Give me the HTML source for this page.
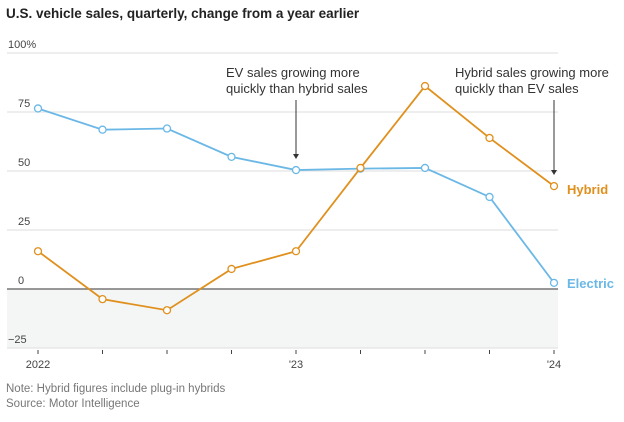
<!DOCTYPE html>
<html><head><meta charset="utf-8"><style>
body{margin:0;background:#fff;font-family:"Liberation Sans",sans-serif;}
svg text{font-family:"Liberation Sans",sans-serif;}
</style></head><body>
<svg width="624" height="417" viewBox="0 0 624 417">
<text x="6" y="18" font-size="13.5" font-weight="bold" fill="#222">U.S. vehicle sales, quarterly, change from a year earlier</text>
<rect x="7" y="289" width="551" height="59" fill="#f4f6f5"/>
<g id="grid"></g>
<g id="ann" font-size="13" fill="#333">
<text x="226" y="77">EV sales growing more</text>
<text x="226" y="93">quickly than hybrid sales</text>
<text x="455" y="77">Hybrid sales growing more</text>
<text x="455" y="93">quickly than EV sales</text>
<line x1="296" y1="100" x2="296" y2="155" stroke="#333"/>
<path d="M293,154 L299,154 L296,159Z" fill="#333"/>
<line x1="554" y1="100" x2="554" y2="171" stroke="#333"/>
<path d="M551,170 L557,170 L554,175Z" fill="#333"/>
</g>
<g id="series"></g>
<text x="567" y="194" font-size="13" font-weight="bold" fill="#e0901d">Hybrid</text>
<text x="567" y="288" font-size="13" font-weight="bold" fill="#6bb8e6">Electric</text>
<text x="6" y="392" font-size="11.5" fill="#777">Note: Hybrid figures include plug-in hybrids</text>
<text x="6" y="407" font-size="11.5" fill="#777">Source: Motor Intelligence</text>
</svg>
<script>
const quarters=[0,1,2,3,4,5,6,7,8];
const xTickLabels=["2022","","","","'23","","","","'24"];
const yTicks=[100,75,50,25,0,-25];
const yTickLabels=["100%","75","50","25","0","−25"];
const electric=[76.5,67.5,68,56,50.4,51,51.3,39,2.6];
const hybrid=[16,-4.3,-9,8.5,16,51.3,86,64,43.6];
const NS="http://www.w3.org/2000/svg";
const x=i=>38+i*64.5;
const y=v=>289-v*2.36;
function mk(t,a,p){const e=document.createElementNS(NS,t);for(const k in a)e.setAttribute(k,a[k]);p.appendChild(e);return e;}
const g=document.getElementById('grid');
yTicks.forEach((v,i)=>{
 const l=mk('line',{x1:7,x2:558,y1:y(v),y2:y(v),stroke:v===0?'#777':'#e3e3e3','stroke-width':v===0?1.5:1.2},g);
 
 
 const t=mk('text',{x:v===100?8:(v===-25?8:18),y:y(v)-5,'font-size':11,fill:'#444'},g);
 t.textContent=yTickLabels[i];
 
 
});
quarters.forEach((q,i)=>{
 const tk=mk('line',{x1:x(q),x2:x(q),y1:y(-25)+2,y2:y(-25)+6,stroke:'#444','stroke-width':1},g);
 
 
 if(xTickLabels[i]){const t=mk('text',{x:x(q),y:y(-25)+20,'font-size':11,fill:'#444','text-anchor':'middle'},g);
 t.textContent=xTickLabels[i];
 
 }
});
const s=document.getElementById('series');
[[electric,'#6bb8e6','electric'],[hybrid,'#e0901d','hybrid']].forEach(([d,c,n])=>{
 const p=mk('polyline',{points:d.map((v,i)=>x(quarters[i])+','+y(v)).join(' '),fill:'none',stroke:c,'stroke-width':1.8},s);
 
 
 d.forEach((v,i)=>{const m=mk('circle',{cx:x(quarters[i]),cy:y(v),r:3.5,fill:'#fff',stroke:c,'stroke-width':1.3},s);
 
 });
});
</script>
</body></html>
